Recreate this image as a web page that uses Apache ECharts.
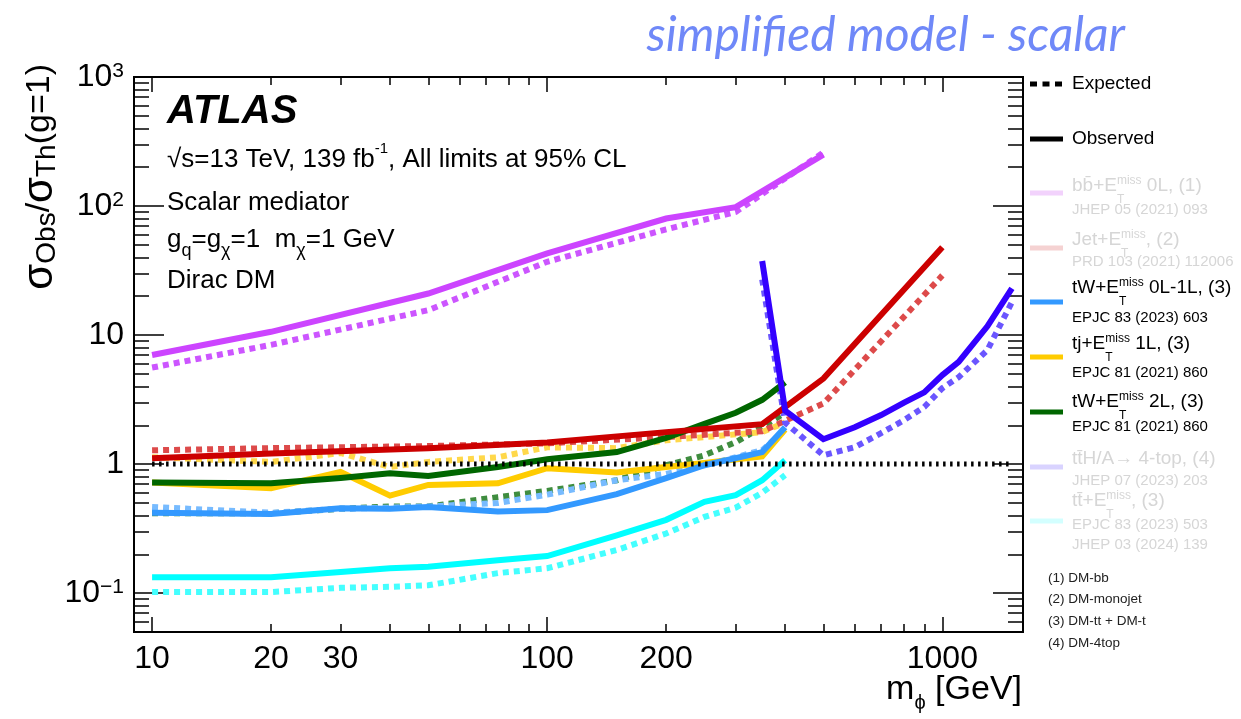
<!DOCTYPE html>
<html><head><meta charset="utf-8">
<script src="https://cdn.jsdelivr.net/npm/echarts@6/dist/echarts.min.js"></script>
<style>html,body{margin:0;padding:0;background:#fff}#c{width:1241px;height:719px}</style>
</head><body><div id="c"></div>
<script>
// ---------- axis ticks / labels ----------
const xMajorTicks = [10, 100, 1000];
const xMinorTicks = [20,30,40,50,60,70,80,90,200,300,400,500,600,700,800,900];
const xTickLabels = [10, 20, 30, 100, 200, 1000];
const yMajorTicks = [0.1, 1, 10, 100, 1000];
const yMinorTicks = [0.06,0.07,0.08,0.09,0.2,0.3,0.4,0.5,0.6,0.7,0.8,0.9,2,3,4,5,6,7,8,9,20,30,40,50,60,70,80,90,200,300,400,500,600,700,800,900];
const yTickLabels = [0.1, 1, 10, 100, 1000];

// ---------- data ----------
// bb+MET 0L (1)
const mass_bb = [10, 20, 50, 100, 200, 300, 500];
const obs_bb  = [7.0, 10.6, 21, 43, 80, 98, 250];
const exp_bb  = [5.6, 8.4, 15.6, 37, 66, 90, 260];
// Jet+MET (2)
const mass_jet = [10, 20, 50, 100, 200, 350, 500, 1000];
const obs_jet  = [1.11, 1.21, 1.33, 1.47, 1.77, 2.04, 4.6, 48];
const exp_jet  = [1.28, 1.33, 1.38, 1.45, 1.62, 1.8, 2.95, 29];
// tW+MET 0L-1L (3)
const mass_tw01 = [10, 20, 30, 40, 50, 75, 100, 150, 200, 250, 350, 400];
const obs_tw01  = [0.42, 0.41, 0.455, 0.45, 0.465, 0.43, 0.44, 0.585, 0.78, 0.98, 1.24, 1.93];
const exp_tw01  = [0.465, 0.42, 0.45, 0.46, 0.47, 0.50, 0.58, 0.75, 0.84, 0.98, 1.28, 1.85];
// tj+MET 1L (3)
const mass_tj = [10, 20, 30, 40, 50, 75, 100, 150, 200, 250, 350, 400];
const obs_tj  = [0.72, 0.65, 0.87, 0.57, 0.69, 0.71, 0.93, 0.86, 0.95, 1.02, 1.15, 1.85];
const exp_tj  = [1.13, 1.04, 1.22, 0.95, 1.04, 1.13, 1.35, 1.33, 1.53, 1.62, 1.77, 2.1];
// tW+MET 2L (3)
const mass_tw2 = [10, 20, 30, 40, 50, 75, 100, 150, 200, 250, 300, 350, 400];
const obs_tw2  = [0.72, 0.71, 0.78, 0.85, 0.81, 0.95, 1.09, 1.24, 1.6, 2.05, 2.5, 3.15, 4.3];
const exp_tw2  = [0.417, 0.417, 0.45, 0.47, 0.47, 0.555, 0.62, 0.75, 0.98, 1.17, 1.48, 1.94, 2.5];
// ttH/A -> 4-top (4)
const mass_4t = [350, 400, 500, 600, 700, 800, 900, 1000, 1100, 1300, 1500];
const obs_4t  = [37.5, 2.6, 1.56, 1.93, 2.4, 3.0, 3.6, 4.9, 6.2, 11.7, 23];
const exp_4t  = [27, 2.1, 1.17, 1.35, 1.74, 2.19, 2.77, 3.88, 4.72, 7.65, 18];
// tt+MET (3)
const mass_tt = [10, 20, 30, 40, 50, 75, 100, 150, 200, 250, 300, 350, 400];
const obs_tt  = [0.133, 0.133, 0.146, 0.156, 0.16, 0.18, 0.194, 0.28, 0.37, 0.51, 0.575, 0.75, 1.07];
const exp_tt  = [0.102, 0.102, 0.11, 0.112, 0.115, 0.143, 0.156, 0.216, 0.29, 0.39, 0.46, 0.6, 0.82];
// reference line at 1
const mass_ref = [10, 1500];
const val_ref  = [1, 1];

const FONT = "'Liberation Sans', Arial, Helvetica, sans-serif";
function pairs(m, v) { return m.map((x, i) => [x, v[i]]); }

const DOT = [6, 5];
function ln(name, m, v, color, dotted) {
  return {
    type: 'line', name: name, data: pairs(m, v), showSymbol: false, symbol: 'none',
    silent: true, animation: false,
    lineStyle: { color: color, width: 6, type: dotted ? DOT : 'solid', cap: 'butt', join: 'miter' },
    z: dotted ? 3 : 4
  };
}

const series = [
  ln('exp_tt', mass_tt, exp_tt, '#44ffff', true),
  ln('exp_tw2', mass_tw2, exp_tw2, '#3f8d3f', true),
  ln('exp_tw01', mass_tw01, exp_tw01, '#77bbff', true),
  ln('exp_tj', mass_tj, exp_tj, '#ffd84a', true),
  ln('exp_jet', mass_jet, exp_jet, '#dd4a4a', true),
  ln('exp_bb', mass_bb, exp_bb, '#cc55ff', true),
  ln('obs_tt', mass_tt, obs_tt, '#00ffff', false),
  ln('obs_tj', mass_tj, obs_tj, '#ffcc00', false),
  ln('obs_tw01', mass_tw01, obs_tw01, '#3399ff', false),
  ln('obs_tw2', mass_tw2, obs_tw2, '#006600', false),
  ln('obs_jet', mass_jet, obs_jet, '#cc0000', false),
  ln('obs_bb', mass_bb, obs_bb, '#cc44ff', false),
  ln('exp_4t', mass_4t, exp_4t, '#6a55ff', true),
  ln('obs_4t', mass_4t, obs_4t, '#3300ff', false),
  {
    type: 'line', name: 'ref', data: pairs(mass_ref, val_ref), showSymbol: false, symbol: 'none',
    silent: true, animation: false, z: 6,
    lineStyle: { color: '#000', width: 5, type: [2.5, 4.5], cap: 'butt' }
  }
];

function xAx(pos, ticks, len, labels) {
  return {
    type: 'log', logBase: 10, min: 9, max: 1600, position: pos,
    axisLine: { show: true, onZero: false, lineStyle: { color: '#000', width: 2 } },
    axisTick: { show: true, inside: true, length: len, customValues: ticks, lineStyle: { color: '#000', width: 1.5 } },
    axisLabel: labels ? {
      show: true, customValues: xTickLabels, margin: 11, color: '#000', fontFamily: FONT, fontSize: 32,
      formatter: function (v) { return String(Math.round(v)); }
    } : { show: false },
    splitLine: { show: false }, minorTick: { show: false }, minorSplitLine: { show: false }
  };
}
const supMap = { 1000: '3', 100: '2', 0.1: '\u22121' };
function yAx(pos, ticks, len, labels) {
  return {
    type: 'log', logBase: 10, min: 0.05, max: 1000, position: pos,
    axisLine: { show: true, onZero: false, lineStyle: { color: '#000', width: 2 } },
    axisTick: { show: true, inside: true, length: len, customValues: ticks, lineStyle: { color: '#000', width: 1.5 } },
    axisLabel: labels ? {
      show: true, customValues: yTickLabels, margin: 10, color: '#000', fontFamily: FONT,
      formatter: function (v) {
        const key = v >= 1 ? Math.round(v) : Math.round(v * 10) / 10;
        if (key === 1) return '{b|1}';
        if (key === 10) return '{b|10}';
        return '{b|10}{s|' + supMap[key] + '}';
      },
      rich: {
        b: { fontSize: 32, lineHeight: 32, padding: [2, 0, 0, 0], verticalAlign: 'bottom', fontFamily: FONT, color: '#000' },
        s: { fontSize: 21, lineHeight: 21, verticalAlign: 'top', fontFamily: FONT, color: '#000' }
      }
    } : { show: false },
    splitLine: { show: false }, minorTick: { show: false }, minorSplitLine: { show: false }
  };
}

// ---------- texts ----------
function richSet(base, color, subSize, supSize, lhExtra, supPad) {
  return {
    n: { fontSize: base, lineHeight: base + lhExtra, verticalAlign: 'middle', fill: color, fontFamily: FONT },
    t: { fontSize: subSize, lineHeight: subSize, verticalAlign: 'bottom', width: 0, fill: color, fontFamily: FONT },
    q: { fontSize: subSize, lineHeight: subSize, verticalAlign: 'bottom', fill: color, fontFamily: FONT },
    m: { fontSize: supSize, lineHeight: supSize, verticalAlign: 'top', padding: [supPad, 0, 0, 0], fill: color, fontFamily: FONT }
  };
}
function txt(x, y, text, rich, extra) {
  return Object.assign({
    type: 'text', x: x, y: y, silent: true, z: 20,
    style: { text: text, rich: rich, align: 'left', verticalAlign: 'middle', fontFamily: FONT }
  }, extra || {});
}
function lline(y, color, dash) {
  return { type: 'line', silent: true, z: 20, shape: { x1: 1030, y1: y, x2: 1063, y2: y },
    style: { stroke: color, lineWidth: 5, lineDash: dash || null } };
}
const BLACK = '#000', FADE = '#d6d6d6';
const L1 = richSet(19, BLACK, 12, 12, 20, 8);
const L1f = richSet(19, FADE, 12, 12, 20, 8);
const L2 = { n: { fontSize: 15, fill: BLACK, fontFamily: FONT } };
const L2f = { n: { fontSize: 15, fill: FADE, fontFamily: FONT } };
const FN = { n: { fontSize: 13.5, fill: '#222', fontFamily: FONT } };
const TXT = richSet(26, BLACK, 18, 15, 15, 2);
const T26 = { n: { fontSize: 26, fill: BLACK, fontFamily: FONT } };

const graphic = [
  // title
  { type: 'text', x: 1125, y: 36, silent: true,
    style: { text: 'simplified model - scalar', align: 'right', verticalAlign: 'middle',
      fontFamily: 'Lato, "Open Sans", sans-serif', fontStyle: 'italic', fontSize: 48, fill: '#6f88f8' } },
  // in-plot labels
  { type: 'text', x: 167, y: 112, silent: true,
    style: { text: 'ATLAS', align: 'left', verticalAlign: 'middle', fontFamily: FONT,
      fontStyle: 'italic', fontWeight: 'bold', fontSize: 40, fill: '#000' } },
  txt(167, 160, '{n|\u221As=13 TeV, 139 fb}{m|-1}{n|, All limits at 95% CL}', TXT),
  txt(167, 203, '{n|Scalar mediator}', T26),
  txt(167, 240, '{n|g}{q|q}{n|=g}{q|\u03c7}{n|=1  m}{q|\u03c7}{n|=1 GeV}', TXT),
  txt(167, 281, '{n|Dirac DM}', T26),
  // axis titles
  { type: 'text', x: 40, y: 64, rotation: Math.PI / 2, silent: true,
    style: { text: '{g|\u03c3}{s|Obs}{n|/}{g|\u03c3}{s|Th}{n|(g=1)}', align: 'right', verticalAlign: 'middle',
      rich: {
        g: { fontSize: 42, lineHeight: 43, verticalAlign: 'middle', fill: '#000', fontFamily: FONT },
        n: { fontSize: 34, lineHeight: 43, verticalAlign: 'middle', fill: '#000', fontFamily: FONT },
        s: { fontSize: 28, lineHeight: 28, verticalAlign: 'bottom', fill: '#000', fontFamily: FONT }
      } } },
  { type: 'text', x: 1022, y: 690, silent: true,
    style: { text: '{n|m}{s|\u03d5}{n| [GeV]}', align: 'right', verticalAlign: 'middle',
      rich: {
        n: { fontSize: 34, lineHeight: 46, verticalAlign: 'middle', fill: '#000', fontFamily: FONT },
        s: { fontSize: 20, lineHeight: 20, verticalAlign: 'bottom', fill: '#000', fontFamily: FONT }
      } } },
  // legend
  lline(84, '#000', [7, 5.5]),
  txt(1072, 84, '{n|Expected}', L1),
  lline(139, '#000'),
  txt(1072, 139, '{n|Observed}', L1),
  lline(193, '#f2d2fc'),
  txt(1072, 186, '{n|bb\u0304+E}{t|T}{m|miss}{n| 0L, (1)}', L1f),
  txt(1072, 210, '{n|JHEP 05 (2021) 093}', L2f),
  lline(248, '#f5d2d2'),
  txt(1072, 240, '{n|Jet+E}{t|T}{m|miss}{n|, (2)}', L1f),
  txt(1072, 262, '{n|PRD 103 (2021) 112006}', L2f),
  lline(302, '#3399ff'),
  txt(1072, 288, '{n|tW+E}{t|T}{m|miss}{n| 0L-1L, (3)}', L1),
  txt(1072, 318, '{n|EPJC 83 (2023) 603}', L2),
  lline(357, '#ffcc00'),
  txt(1072, 344, '{n|tj+E}{t|T}{m|miss}{n| 1L, (3)}', L1),
  txt(1072, 373, '{n|EPJC 81 (2021) 860}', L2),
  lline(412, '#006600'),
  txt(1072, 402, '{n|tW+E}{t|T}{m|miss}{n| 2L, (3)}', L1),
  txt(1072, 427, '{n|EPJC 81 (2021) 860}', L2),
  lline(467, '#d9d3ff'),
  txt(1072, 459, '{n|tt\u0304H/A\u2192 4-top, (4)}', L1f),
  txt(1072, 481, '{n|JHEP 07 (2023) 203}', L2f),
  lline(521, '#d3ffff'),
  txt(1072, 501, '{n|tt\u0304+E}{t|T}{m|miss}{n|, (3)}', L1f),
  txt(1072, 525, '{n|EPJC 83 (2023) 503}', L2f),
  txt(1072, 545, '{n|JHEP 03 (2024) 139}', L2f),
  txt(1048, 578, '{n|(1) DM-bb}', FN),
  txt(1048, 599, '{n|(2) DM-monojet}', FN),
  txt(1048, 621, '{n|(3) DM-tt + DM-t}', FN),
  txt(1048, 643, '{n|(4) DM-4top}', FN)
];

const chart = echarts.init(document.getElementById('c'), null, { renderer: 'canvas' });
chart.setOption({
  animation: false,
  backgroundColor: '#fff',
  grid: { left: 134, right: 218, top: 77, bottom: 87, containLabel: false },
  xAxis: [
    xAx('bottom', xMajorTicks, 15, true),
    xAx('bottom', xMinorTicks, 8, false),
    xAx('top', xMajorTicks, 15, false),
    xAx('top', xMinorTicks, 8, false)
  ],
  yAxis: [
    yAx('left', yMajorTicks, 30, true),
    yAx('left', yMinorTicks, 15, false),
    yAx('right', yMajorTicks, 30, false),
    yAx('right', yMinorTicks, 15, false)
  ],
  series: series,
  graphic: graphic
});
</script>
</body></html>
